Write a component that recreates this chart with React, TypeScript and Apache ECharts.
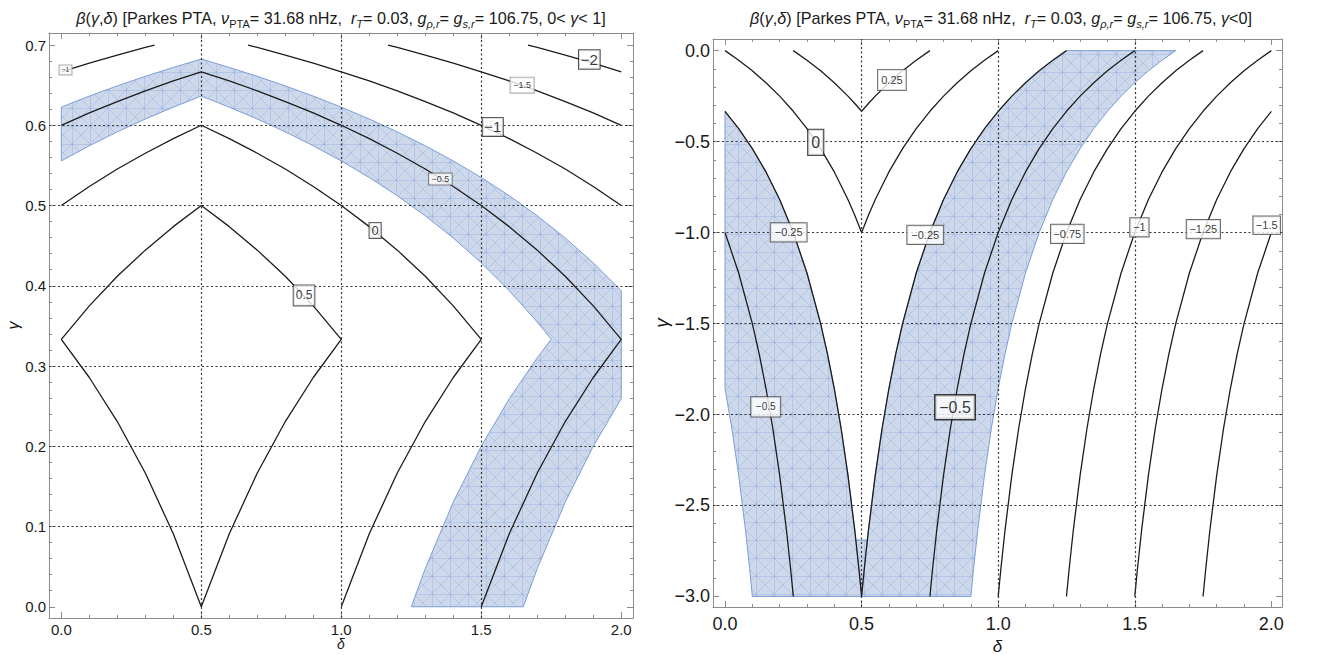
import React, { useEffect, useRef } from "react";
import * as echarts from "echarts";

// ================= DATA =================
// Axis ticks / grid lines
const deltaMajor = [0, 0.5, 1, 1.5, 2];
const deltaMinor = [0.1, 0.2, 0.3, 0.4, 0.6, 0.7, 0.8, 0.9, 1.1, 1.2, 1.3, 1.4, 1.6, 1.7, 1.8, 1.9];
const gammaLeftMajor = [0, 0.1, 0.2, 0.3, 0.4, 0.5, 0.6, 0.7];
const gammaLeftMinor = [0.02, 0.04, 0.06, 0.08, 0.12, 0.14, 0.16, 0.18, 0.22, 0.24, 0.26, 0.28, 0.32, 0.34, 0.36, 0.38, 0.42, 0.44, 0.46, 0.48, 0.52, 0.54, 0.56, 0.58, 0.62, 0.64, 0.66, 0.68];
const gammaRightMajor = [-3, -2.5, -2, -1.5, -1, -0.5, 0];
const gammaRightMinor = [-2.9, -2.8, -2.7, -2.6, -2.4, -2.3, -2.2, -2.1, -1.9, -1.8, -1.7, -1.6, -1.4, -1.3, -1.2, -1.1, -0.9, -0.8, -0.7, -0.6, -0.4, -0.3, -0.2, -0.1];
const deltaGridLines = [0.5, 1, 1.5];
const gammaLeftGridLines = [0.1, 0.2, 0.3, 0.4, 0.5, 0.6];
const gammaRightGridLines = [-2.5, -2, -1.5, -1, -0.5];

// Left panel (0 < gamma < 1): contour lines [delta, gamma]
const leftC05 = [[0, 0.3333], [0.1, 0.375], [0.2, 0.4118], [0.3, 0.4444], [0.4, 0.4737], [0.5, 0.5], [0.6, 0.4737], [0.7, 0.4444], [0.8, 0.4118], [0.9, 0.375], [1.0, 0.3333], [0.9, 0.2857], [0.8, 0.2308], [0.7, 0.1667], [0.6, 0.0909], [0.5, 0], [0.4, 0.0909], [0.3, 0.1667], [0.2, 0.2308], [0.1, 0.2857], [0, 0.3333]];
const leftC0 = [[0, 0.5], [0.1, 0.5238], [0.2, 0.5455], [0.3, 0.5652], [0.4, 0.5833], [0.5, 0.6], [0.6, 0.5833], [0.7, 0.5652], [0.8, 0.5455], [0.9, 0.5238], [1.0, 0.5], [1.1, 0.4737], [1.2, 0.4444], [1.3, 0.4118], [1.4, 0.375], [1.5, 0.3333], [1.4, 0.2857], [1.3, 0.2308], [1.2, 0.1667], [1.1, 0.0909], [1.0, 0]];
const leftCm05 = [[0, 0.6], [0.1, 0.6154], [0.2, 0.6296], [0.3, 0.6429], [0.4, 0.6552], [0.5, 0.6667], [0.6, 0.6552], [0.7, 0.6429], [0.8, 0.6296], [0.9, 0.6154], [1.0, 0.6], [1.1, 0.5833], [1.2, 0.5652], [1.3, 0.5455], [1.4, 0.5238], [1.5, 0.5], [1.6, 0.4737], [1.7, 0.4444], [1.8, 0.4118], [1.9, 0.375], [2.0, 0.3333], [1.9, 0.2857], [1.8, 0.2308], [1.7, 0.1667], [1.6, 0.0909], [1.5, 0]];
const leftCm1a = [[0, 0.6667], [0.1, 0.6774], [0.2, 0.6875], [0.3, 0.697], [0.333, 0.7]];
const leftCm1b = [[0.667, 0.7], [0.7, 0.697], [0.8, 0.6875], [0.9, 0.6774], [1.0, 0.6667], [1.1, 0.6552], [1.2, 0.6429], [1.3, 0.6296], [1.4, 0.6154], [1.5, 0.6], [1.6, 0.5833], [1.7, 0.5652], [1.8, 0.5455], [1.9, 0.5238], [2.0, 0.5]];
const leftCm15 = [[1.167, 0.7], [1.2, 0.697], [1.3, 0.6875], [1.4, 0.6774], [1.5, 0.6667], [1.6, 0.6552], [1.7, 0.6429], [1.8, 0.6296], [1.9, 0.6154], [2.0, 0.6]];
const leftCm2 = [[1.667, 0.7], [1.7, 0.697], [1.8, 0.6875], [1.9, 0.6774], [2.0, 0.6667]];

// Left panel shaded band
const leftBand = [[0, 0.6226], [0.1, 0.6364], [0.2, 0.6491], [0.3, 0.661], [0.4, 0.6721], [0.5, 0.6825], [0.6, 0.6721], [0.7, 0.661], [0.8, 0.6491], [0.9, 0.6364], [1.0, 0.6226], [1.1, 0.6078], [1.2, 0.5918], [1.3, 0.5745], [1.4, 0.5556], [1.5, 0.5349], [1.6, 0.5122], [1.7, 0.4872], [1.8, 0.4595], [1.9, 0.4286], [2.0, 0.3939], [2.0, 0.2593], [1.9, 0.2], [1.8, 0.1304], [1.7, 0.0476], [1.65, 0], [1.25, 0], [1.3, 0.0476], [1.4, 0.1304], [1.5, 0.2], [1.6, 0.2593], [1.7, 0.3103], [1.75, 0.3333], [1.7, 0.3548], [1.6, 0.3939], [1.5, 0.4286], [1.4, 0.4595], [1.3, 0.4872], [1.2, 0.5122], [1.1, 0.5349], [1.0, 0.5556], [0.9, 0.5745], [0.8, 0.5918], [0.7, 0.6078], [0.6, 0.6226], [0.5, 0.6364], [0.4, 0.6226], [0.3, 0.6078], [0.2, 0.5918], [0.1, 0.5745], [0, 0.5556]];

// Left panel contour labels
const leftLabelText = ["−1", "0.5", "0", "−0.5", "−1", "−1.5", "−2"];
const leftLabelDelta = [0.015, 0.867, 1.121, 1.354, 1.541, 1.646, 1.886];
const leftLabelGamma = [0.669, 0.388, 0.469, 0.533, 0.598, 0.65, 0.682];

// Right panel (gamma < 0): contour lines [delta, gamma]
const rightC025 = [[0.25, 0], [0.3, -0.0526], [0.35, -0.1111], [0.4, -0.1765], [0.45, -0.25], [0.475, -0.2903], [0.5, -0.3333], [0.525, -0.2903], [0.55, -0.25], [0.6, -0.1765], [0.65, -0.1111], [0.7, -0.0526], [0.75, 0]];
const rightC0 = [[0, 0], [0.05, -0.0526], [0.1, -0.1111], [0.15, -0.1765], [0.2, -0.25], [0.25, -0.3333], [0.3, -0.4286], [0.35, -0.5385], [0.4, -0.6667], [0.45, -0.8182], [0.475, -0.9048], [0.5, -1], [0.525, -0.9048], [0.55, -0.8182], [0.6, -0.6667], [0.65, -0.5385], [0.7, -0.4286], [0.75, -0.3333], [0.8, -0.25], [0.85, -0.1765], [0.9, -0.1111], [0.95, -0.0526], [1.0, 0]];
const rightCm025 = [[0, -0.3333], [0.05, -0.4286], [0.1, -0.5385], [0.15, -0.6667], [0.2, -0.8182], [0.25, -1], [0.3, -1.2222], [0.35, -1.5], [0.375, -1.6667], [0.4, -1.8571], [0.425, -2.0769], [0.45, -2.3333], [0.475, -2.6364], [0.49, -2.8462], [0.5, -3], [0.51, -2.8462], [0.525, -2.6364], [0.55, -2.3333], [0.575, -2.0769], [0.6, -1.8571], [0.625, -1.6667], [0.65, -1.5], [0.7, -1.2222], [0.75, -1], [0.8, -0.8182], [0.85, -0.6667], [0.9, -0.5385], [0.95, -0.4286], [1.0, -0.3333], [1.05, -0.25], [1.1, -0.1765], [1.15, -0.1111], [1.2, -0.0526], [1.25, 0]];
const rightCm05a = [[0, -1], [0.05, -1.2222], [0.1, -1.5], [0.125, -1.6667], [0.15, -1.8571], [0.175, -2.0769], [0.2, -2.3333], [0.225, -2.6364], [0.24, -2.8462], [0.25, -3]];
const rightCm05b = [[0.75, -3], [0.76, -2.8462], [0.775, -2.6364], [0.8, -2.3333], [0.825, -2.0769], [0.85, -1.8571], [0.875, -1.6667], [0.9, -1.5], [0.95, -1.2222], [1.0, -1], [1.05, -0.8182], [1.1, -0.6667], [1.15, -0.5385], [1.2, -0.4286], [1.25, -0.3333], [1.3, -0.25], [1.35, -0.1765], [1.4, -0.1111], [1.45, -0.0526], [1.5, 0]];
const rightCm075 = [[1.0, -3], [1.01, -2.8462], [1.025, -2.6364], [1.05, -2.3333], [1.075, -2.0769], [1.1, -1.8571], [1.125, -1.6667], [1.15, -1.5], [1.2, -1.2222], [1.25, -1], [1.3, -0.8182], [1.35, -0.6667], [1.4, -0.5385], [1.45, -0.4286], [1.5, -0.3333], [1.55, -0.25], [1.6, -0.1765], [1.65, -0.1111], [1.7, -0.0526], [1.75, 0]];
const rightCm1 = [[1.25, -3], [1.26, -2.8462], [1.275, -2.6364], [1.3, -2.3333], [1.325, -2.0769], [1.35, -1.8571], [1.375, -1.6667], [1.4, -1.5], [1.45, -1.2222], [1.5, -1], [1.55, -0.8182], [1.6, -0.6667], [1.65, -0.5385], [1.7, -0.4286], [1.75, -0.3333], [1.8, -0.25], [1.85, -0.1765], [1.9, -0.1111], [1.95, -0.0526], [2.0, 0]];
const rightCm125 = [[1.5, -3], [1.51, -2.8462], [1.525, -2.6364], [1.55, -2.3333], [1.575, -2.0769], [1.6, -1.8571], [1.625, -1.6667], [1.65, -1.5], [1.7, -1.2222], [1.75, -1], [1.8, -0.8182], [1.85, -0.6667], [1.9, -0.5385], [1.95, -0.4286], [2.0, -0.3333]];
const rightCm15 = [[1.75, -3], [1.76, -2.8462], [1.775, -2.6364], [1.8, -2.3333], [1.825, -2.0769], [1.85, -1.8571], [1.875, -1.6667], [1.9, -1.5], [1.95, -1.2222], [2.0, -1]];

// Right panel shaded band (three pieces)
const rightBandA = [[0, -0.3333], [0.05, -0.4286], [0.1, -0.5385], [0.15, -0.6667], [0.2, -0.8182], [0.25, -1], [0.3, -1.2222], [0.35, -1.5], [0.375, -1.6667], [0.4, -1.8571], [0.425, -2.0769], [0.45, -2.3333], [0.475, -2.6364], [0.49, -2.8462], [0.5, -3], [0.1, -3], [0.09, -2.8462], [0.075, -2.6364], [0.05, -2.3333], [0.025, -2.0769], [0, -1.8571]];
const rightBandB = [[0.5, -3], [0.51, -2.8462], [0.525, -2.6364], [0.55, -2.3333], [0.575, -2.0769], [0.6, -1.8571], [0.625, -1.6667], [0.65, -1.5], [0.7, -1.2222], [0.75, -1], [0.8, -0.8182], [0.85, -0.6667], [0.9, -0.5385], [0.95, -0.4286], [1.0, -0.3333], [1.05, -0.25], [1.1, -0.1765], [1.15, -0.1111], [1.2, -0.0526], [1.25, 0], [1.65, 0], [1.6, -0.0526], [1.55, -0.1111], [1.5, -0.1765], [1.45, -0.25], [1.4, -0.3333], [1.35, -0.4286], [1.3, -0.5385], [1.25, -0.6667], [1.2, -0.8182], [1.15, -1], [1.1, -1.2222], [1.05, -1.5], [1.025, -1.6667], [1.0, -1.8571], [0.975, -2.0769], [0.95, -2.3333], [0.925, -2.6364], [0.91, -2.8462], [0.9, -3]];
const rightBandNotch = [[0.47, -2.69], [0.53, -2.69], [0.53, -3], [0.47, -3]];

// Right panel contour labels
const rightLabelText = ["0.25", "0", "−0.25", "−0.25", "−0.75", "−1", "−1.25", "−1.5", "−0.5", "−0.5"];
const rightLabelDelta = [0.611, 0.332, 0.233, 0.733, 1.253, 1.517, 1.751, 1.983, 0.149, 0.842];
const rightLabelGamma = [-0.161, -0.504, -0.999, -1.013, -1.007, -0.971, -0.981, -0.96, -1.958, -1.96];

// Titles
const titleLeft = "{i|β}({i|γ},{i|δ}) [Parkes PTA, {i|ν}{s|PTA}= 31.68 nHz,  {i|r}{si|T}= 0.03, {i|g}{si|ρ,r}= {i|g}{si|s,r}= 106.75, 0< {i|γ}< 1]";
const titleRight = "{i|β}({i|γ},{i|δ}) [Parkes PTA, {i|ν}{s|PTA}= 31.68 nHz,  {i|r}{si|T}= 0.03, {i|g}{si|ρ,r}= {i|g}{si|s,r}= 106.75, {i|γ}<0]";

// ================= STYLES =================
const FONT = '"Liberation Sans", Arial, Helvetica, sans-serif';
const AXIS_COLOR = "#8c8c8c";
const TEXT_COLOR = "#1a1a1a";
const CONTOUR_COLOR = "#1c1c1c";
const BAND_FILL = "#ced8eb";
const BAND_EDGE = "#7b9dd8";
const TITLE_SIZE = 16.2;

const leftLabelFont = [7, 12, 13, 9, 15, 9, 15];
const leftLabelPad = [[1, 2], [4, 2], [1, 2], [1, 2.5], [1.5, 1.5], [3, 2.7], [1.8, 1.8]];
const leftLabelBorder = ["#9a9a9a", "#333", "#333", "#666", "#222", "#9a9a9a", "#222"];
const rightLabelFont = [11, 16, 11, 11, 11, 11, 11, 11, 10, 16];
const rightLabelPad = [[4.5, 3.2], [4.5, 3], [3.6, 4], [3.6, 4], [3.6, 2.4], [3.6, 2.9], [3.6, 2.7], [3.3, 2.5], [4.7, 4.6], [3.8, 3.7]];
const rightLabelBorder = ["#555", "#222", "#444", "#444", "#444", "#444", "#444", "#444", "#444", "#111"];
const rightLabelBorderW = [1, 1.2, 1, 1, 1, 1, 1, 1, 1, 1.5];

const meshSvg =
  "<svg xmlns='http://www.w3.org/2000/svg' width='36' height='36'>" +
  "<g stroke='rgb(128,158,216)' stroke-opacity='0.42' stroke-width='0.8' fill='none'>" +
  "<path d='M0 0.5H36M0 18.5H36M0.5 0V36M18.5 0V36M0 0L36 36M36 0L0 36M0 18L18 0M18 36L36 18M0 18L18 36M18 0L36 18'/></g></svg>";
const meshUrl = "data:image/svg+xml;charset=utf-8," + encodeURIComponent(meshSvg);

const fmtPos = (v: number) => v.toFixed(1);
const fmtSigned = (v: number) => (v < -1e-9 ? "−" : "") + Math.abs(v).toFixed(1);

function makeXAxes(grid: number, min: number, max: number, fontSize: number, margin: number, nameGap: number, nameSize: number, moveOverlap: boolean) {
  const base: any = {
    type: "value", gridIndex: grid, min, max,
    splitLine: { show: false },
    axisLine: { show: true, onZero: false, lineStyle: { color: AXIS_COLOR, width: 1 } },
  };
  const major = { show: true, inside: true, length: 6, customValues: deltaMajor, lineStyle: { color: AXIS_COLOR, width: 1 } };
  const minor = { show: true, inside: true, length: 3, customValues: deltaMinor, lineStyle: { color: AXIS_COLOR, width: 1 } };
  return [
    {
      ...base, position: "bottom", axisTick: major,
      axisLabel: { show: true, customValues: deltaMajor, formatter: fmtPos, fontSize, margin, color: TEXT_COLOR, fontFamily: FONT },
      name: "δ", nameLocation: "middle", nameGap, nameMoveOverlap: moveOverlap,
      nameTextStyle: { fontStyle: "italic", fontSize: nameSize, fontFamily: FONT, color: TEXT_COLOR, lineHeight: nameSize },
    },
    { ...base, position: "bottom", axisLine: { show: false, onZero: false }, axisTick: minor, axisLabel: { show: false } },
    { ...base, position: "top", axisTick: major, axisLabel: { show: false } },
    { ...base, position: "top", axisLine: { show: false, onZero: false }, axisTick: minor, axisLabel: { show: false } },
  ];
}

function makeYAxes(grid: number, min: number, max: number, majorV: number[], minorV: number[], fmt: (v: number) => string, fontSize: number, margin: number, nameGap: number, nameSize: number) {
  const base: any = {
    type: "value", gridIndex: grid, min, max,
    splitLine: { show: false },
    axisLine: { show: true, onZero: false, lineStyle: { color: AXIS_COLOR, width: 1 } },
  };
  const major = { show: true, inside: true, length: 6, customValues: majorV, lineStyle: { color: AXIS_COLOR, width: 1 } };
  const minor = { show: true, inside: true, length: 3, customValues: minorV, lineStyle: { color: AXIS_COLOR, width: 1 } };
  return [
    {
      ...base, position: "left", axisTick: major,
      axisLabel: { show: true, customValues: majorV, formatter: fmt, fontSize, margin, color: TEXT_COLOR, fontFamily: FONT },
      name: "γ", nameLocation: "middle", nameGap, nameRotate: 90,
      nameTextStyle: { fontStyle: "italic", fontSize: nameSize, fontFamily: FONT, color: TEXT_COLOR },
    },
    { ...base, position: "left", axisLine: { show: false, onZero: false }, axisTick: minor, axisLabel: { show: false } },
    { ...base, position: "right", axisTick: major, axisLabel: { show: false } },
    { ...base, position: "right", axisLine: { show: false, onZero: false }, axisTick: minor, axisLabel: { show: false } },
  ];
}

function bandSeries(xi: number, yi: number, polys: number[][][]) {
  return {
    type: "custom", xAxisIndex: xi, yAxisIndex: yi, z: 1, silent: true, clip: false,
    data: polys.map((p, i) => [p[0][0], p[0][1], i]),
    renderItem: (params: any, api: any) => {
      const poly = polys[params.dataIndex];
      const pts = poly.map((p) => api.coord(p));
      return {
        type: "group",
        children: [
          { type: "polygon", shape: { points: pts }, style: { fill: BAND_FILL, stroke: "none" } },
          {
            type: "polygon", shape: { points: pts },
            style: { fill: { image: meshUrl, repeat: "repeat", imageWidth: 36, imageHeight: 36 }, stroke: BAND_EDGE, lineWidth: 1 },
          },
        ],
      };
    },
  };
}

function contourSeries(xi: number, yi: number, data: number[][], extra?: any) {
  return {
    type: "line", xAxisIndex: xi, yAxisIndex: yi, z: 3, silent: true,
    data, showSymbol: false, symbol: "none", smooth: false,
    lineStyle: { color: CONTOUR_COLOR, width: 1.3 },
    ...(extra || {}),
  };
}

function gridMarkLine(xs: number[], ys: number[]) {
  return {
    markLine: {
      silent: true, symbol: ["none", "none"], label: { show: false }, animation: false,
      lineStyle: { color: "#333", width: 1.2, type: [2, 2.5] },
      data: [...xs.map((v) => ({ xAxis: v })), ...ys.map((v) => ({ yAxis: v }))],
    },
  };
}

function labelSeries(xi: number, yi: number, texts: string[], dx: number[], gy: number[], fonts: number[], pads: number[][], borders: string[], bws?: number[]) {
  return {
    type: "scatter", xAxisIndex: xi, yAxisIndex: yi, z: 10, silent: true,
    symbolSize: 1, itemStyle: { color: "rgba(0,0,0,0)" },
    data: texts.map((t, i) => ({
      value: [dx[i], gy[i]], name: t,
      label: { fontSize: fonts[i], padding: pads[i], borderColor: borders[i], borderWidth: bws ? bws[i] : 1 },
    })),
    label: {
      show: true, position: "inside", formatter: (p: any) => p.name,
      color: "#000", backgroundColor: "#fff", borderColor: "#555", borderWidth: 1, fontFamily: FONT,
    },
  };
}

function buildOption(): any {
  const richStyle = {
    i: { fontStyle: "italic", fontSize: TITLE_SIZE, fontFamily: FONT, fill: TEXT_COLOR, lineHeight: 22 },
    s: { fontSize: 11, fontFamily: FONT, fill: TEXT_COLOR, lineHeight: 13, verticalAlign: "bottom" },
    si: { fontSize: 11, fontStyle: "italic", fontFamily: FONT, fill: TEXT_COLOR, lineHeight: 13, verticalAlign: "bottom" },
  };
  const titleStyle = (text: string) => ({
    text, rich: richStyle, fontSize: TITLE_SIZE, fontFamily: FONT, fill: TEXT_COLOR, lineHeight: 22,
    align: "center", verticalAlign: "middle",
  });
  return {
    animation: false,
    backgroundColor: "#fff",
    grid: [
      { left: 49, top: 33, width: 584, height: 585, outerBoundsMode: "none", containLabel: false },
      { left: 713, top: 39, width: 569, height: 568, outerBoundsMode: "none", containLabel: false },
    ],
    xAxis: [
      ...makeXAxes(0, -0.044, 2.042, 15, 4, 19, 14, false),
      ...makeXAxes(1, -0.044, 2.039, 18, 8, 25, 17, true),
    ],
    yAxis: [
      ...makeYAxes(0, -0.014, 0.715, gammaLeftMajor, gammaLeftMinor, fmtPos, 15, 3, 22, 16),
      ...makeYAxes(1, -3.058, 0.064, gammaRightMajor, gammaRightMinor, fmtSigned, 18, 3, 40, 19),
    ],
    graphic: [
      { type: "text", x: 341, y: 18, silent: true, style: titleStyle(titleLeft) },
      { type: "text", x: 1001, y: 18, silent: true, style: titleStyle(titleRight) },
    ],
    series: [
      // Left panel
      bandSeries(0, 0, [leftBand]),
      contourSeries(0, 0, leftC05, gridMarkLine(deltaGridLines, gammaLeftGridLines)),
      contourSeries(0, 0, leftC0),
      contourSeries(0, 0, leftCm05),
      contourSeries(0, 0, leftCm1a),
      contourSeries(0, 0, leftCm1b),
      contourSeries(0, 0, leftCm15),
      contourSeries(0, 0, leftCm2),
      labelSeries(0, 0, leftLabelText, leftLabelDelta, leftLabelGamma, leftLabelFont, leftLabelPad, leftLabelBorder),
      // Right panel
      bandSeries(4, 4, [rightBandNotch, rightBandA, rightBandB]),
      contourSeries(4, 4, rightC025, gridMarkLine(deltaGridLines, gammaRightGridLines)),
      contourSeries(4, 4, rightC0),
      contourSeries(4, 4, rightCm025),
      contourSeries(4, 4, rightCm05a),
      contourSeries(4, 4, rightCm05b),
      contourSeries(4, 4, rightCm075),
      contourSeries(4, 4, rightCm1),
      contourSeries(4, 4, rightCm125),
      contourSeries(4, 4, rightCm15),
      labelSeries(4, 4, rightLabelText, rightLabelDelta, rightLabelGamma, rightLabelFont, rightLabelPad, rightLabelBorder, rightLabelBorderW),
    ],
  };
}

export default function App() {
  const ref = useRef<HTMLDivElement>(null);
  useEffect(() => {
    document.body.style.margin = "0";
    const chart = echarts.init(ref.current as HTMLDivElement, null, { renderer: "svg" });
    chart.setOption(buildOption());
    return () => chart.dispose();
  }, []);
  return <div ref={ref} style={{ width: 1326, height: 655 }} />;
}
